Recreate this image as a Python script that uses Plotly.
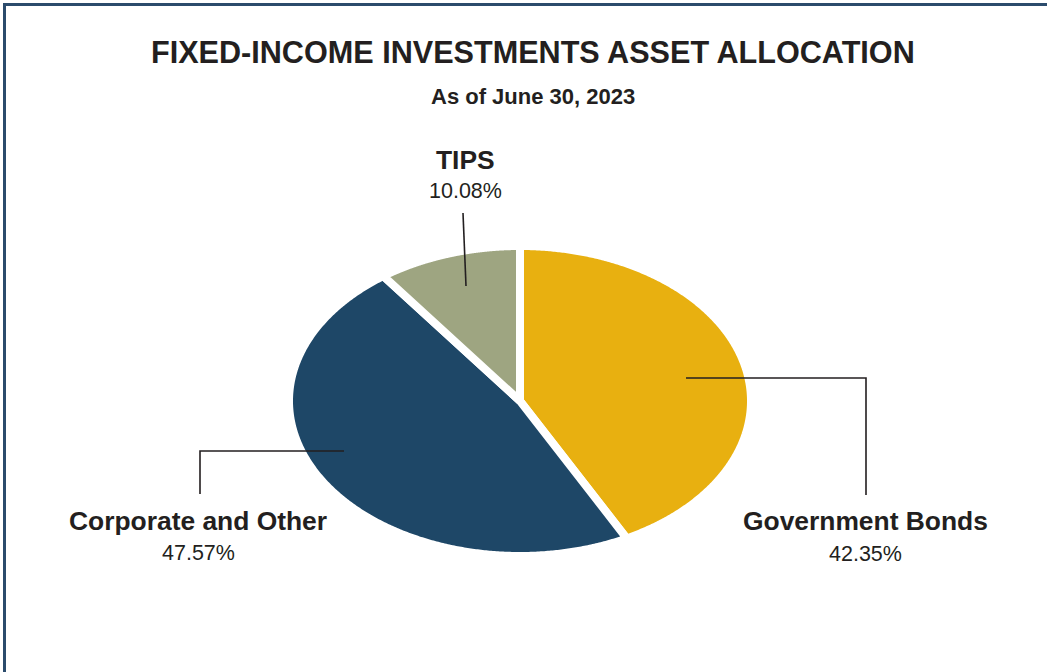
import numpy as np
import plotly.graph_objects as go

# ---- data ----
categories = ["Government Bonds", "Corporate and Other", "TIPS"]
values = [42.35, 47.57, 10.08]
colors = ["#E8B010", "#1E4767", "#9EA581"]
pct_labels = ["42.35%", "47.57%", "10.08%"]

title = "FIXED-INCOME INVESTMENTS ASSET ALLOCATION"
subtitle = "As of June 30, 2023"

W, H = 1047, 672
CX, CY = 520, 401          # ellipse centre (px)
A, B = 231, 155            # semi-axes incl. half of the white stroke
GAP = 8

fig = go.Figure()
total = sum(values)
start = 0.0
for cat, v, col in zip(categories, values, colors):
    end = start + v / total * 2 * np.pi
    t = np.linspace(start, end, 400)
    xs = np.concatenate([[CX], CX + A * np.sin(t), [CX]])
    ys = np.concatenate([[CY], CY - B * np.cos(t), [CY]])
    fig.add_trace(go.Scatter(x=xs, y=ys, mode="lines", fill="toself",
                             fillcolor=col,
                             line=dict(color="white", width=GAP, simplify=False),
                             name=cat, hoverinfo="name", showlegend=False))
    start = end

LINE = dict(color="#231F20", width=1.6)
shapes = [
    # border
    dict(type="line", xref="paper", yref="paper", x0=3 / W, x1=1, y0=1 - 4.5 / H, y1=1 - 4.5 / H,
         line=dict(color="#2B4B6C", width=3)),
    dict(type="line", xref="paper", yref="paper", x0=4.5 / W, x1=4.5 / W, y0=0, y1=1 - 3 / H,
         line=dict(color="#2B4B6C", width=3)),
    # leader lines
    dict(type="line", x0=463, y0=213, x1=466, y1=286, line=LINE),
    dict(type="path", path="M 686 378 L 866 378 L 866 495", line=LINE),
    dict(type="path", path="M 344 451 L 200 451 L 200 494", line=LINE),
]

FONT = "Liberation Sans Narrow, Arial Narrow, Liberation Sans, Arial"
label_pos = {
    "Government Bonds": (865, 521, 554),
    "Corporate and Other": (198, 521, 553),
    "TIPS": (465, 160, 191),
}
annotations = [
    dict(text=f"<b>{title}</b>", x=533, y=52, showarrow=False,
         font=dict(family=FONT, size=30.6, color="#231F20")),
    dict(text=f"<b>{subtitle}</b>", x=533, y=96, showarrow=False,
         font=dict(family=FONT, size=22, color="#231F20")),
]
for cat, pl in zip(categories, pct_labels):
    x, y1, y2 = label_pos[cat]
    annotations.append(dict(text=f"<b>{cat}</b>", x=x, y=y1, showarrow=False,
                            font=dict(family=FONT, size=26.4, color="#231F20")))
    annotations.append(dict(text=pl, x=x, y=y2, showarrow=False,
                            font=dict(family=FONT, size=21.5, color="#231F20")))

fig.update_layout(
    width=W, height=H,
    margin=dict(l=0, r=0, t=0, b=0),
    paper_bgcolor="white", plot_bgcolor="white",
    xaxis=dict(range=[0, W], visible=False, fixedrange=True),
    yaxis=dict(range=[H, 0], visible=False, fixedrange=True),
    shapes=shapes, annotations=annotations,
    hovermode="closest",
)

fig.write_html("out.html", config={"displayModeBar": False},
               post_script="document.body.style.margin='0';")
